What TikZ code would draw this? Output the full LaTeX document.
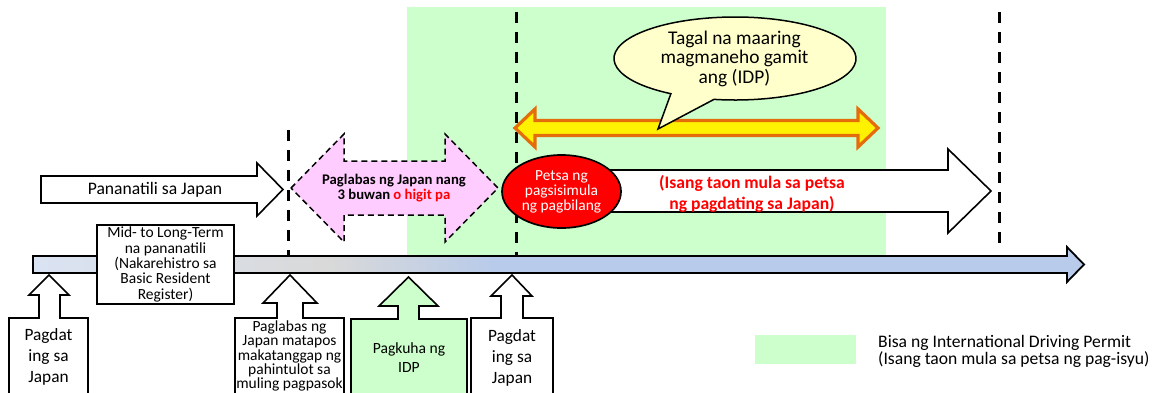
\documentclass[tikz,border=0pt]{standalone}
\usepackage{fontspec}
\setmainfont{Carlito}
\usetikzlibrary{shapes.geometric,calc}
\definecolor{idpgreen}{HTML}{CCFFCC}
\definecolor{pinkfill}{HTML}{FFCCFF}
\definecolor{orangeline}{HTML}{E46C0A}
\definecolor{bubblefill}{HTML}{FFFFCC}
\definecolor{tlL}{HTML}{DAE3F3}
\definecolor{tlG}{HTML}{D9D9D9}
\definecolor{tlB}{HTML}{B8CBEA}
\pgfdeclarehorizontalshading{timelineshade}{100bp}{color(0bp)=(tlL); color(25bp)=(tlL); color(39bp)=(tlG); color(47bp)=(tlB); color(100bp)=(tlB)}
\tikzset{
  blk/.style={draw=black, line width=1.6pt, line join=miter, fill=white},
  vdash/.style={draw=black, line width=3pt, dash pattern=on 11pt off 9pt},
  pinkarrow/.style={draw=black, line width=1.5pt, dash pattern=on 6pt off 4pt, fill=pinkfill, line join=miter},
  yarrow/.style={draw=orangeline, line width=3.2pt, fill=yellow, line join=miter},
  bubble/.style={draw=black, line width=1.5pt, fill=bubblefill, line join=miter},
  txt/.style={inner sep=0pt, align=center, text=black},
}
\begin{document}
\begin{tikzpicture}[x=1pt,y=-1pt]
\useasboundingbox (0,0) rectangle (1162,392);
\clip (0,0) rectangle (1162,392);
% validity area
\fill[idpgreen] (407,7) rectangle (886,256);
% dashed vertical lines
\coordinate (d1t) at (288,130); \coordinate (d1b) at (288,256);
\coordinate (d2t) at (516,12);  \coordinate (d2b) at (516,256);
\coordinate (d3t) at (999,12);  \coordinate (d3b) at (999,252);
\draw[vdash] (d1t) -- (d1b);
\draw[vdash] (d2t) -- (d2b);
\draw[vdash] (d3t) -- (d3b);
% stay arrow
\draw[blk] (41,176) -- (257,176) -- (257,163) -- (283,189.5) -- (257,216) -- (257,203) -- (41,203) -- cycle;
\node[txt, font=\fontsize{17.6}{21}\selectfont] (stay) at (155,190) {Pananatili sa Japan};
% pink double arrow
\draw[pinkarrow] (291,188) -- (344,134) -- (344,161) -- (445,161) -- (445,134) -- (498,188) -- (445,242) -- (445,215) -- (344,215) -- (344,242) -- cycle;
\node[txt, font=\bfseries\fontsize{14.7}{15}\selectfont] (leave) at (394,188) {Paglabas ng Japan nang\\3 buwan \textcolor{red}{o higit pa}};
% yellow double arrow
\draw[yarrow] (515,128) -- (535,109) -- (535,120.5) -- (858,120.5) -- (858,109) -- (878,128) -- (858,147) -- (858,135.5) -- (535,135.5) -- (535,147) -- cycle;
% speech bubble
\coordinate (bubc) at (735,58.5);
\coordinate (bubtip) at (658,129);
\draw[bubble] ($(bubc)+(-100:121pt and 41.5pt)$) -- (bubtip) -- ($(bubc)+(-122:121pt and 41.5pt)$) arc[start angle=-122, end angle=-460, x radius=121pt, y radius=41.5pt] -- cycle;
\node[txt, font=\fontsize{19.4}{19.5}\selectfont] (bubtxt) at (734.5,58.5) {Tagal na maaring\\magmaneho gamit\\ang (IDP)};
% one-year arrow
\draw[blk] (570,170) -- (948,170) -- (948,149) -- (991,191) -- (948,233) -- (948,212) -- (570,212) -- cycle;
\node[txt, text=red, font=\bfseries\fontsize{17.6}{21}\selectfont] (year) at (752,193.5) {(Isang taon mula sa petsa\\ng pagdating sa Japan)};
% start ellipse
\node[ellipse, draw=black, line width=1.7pt, fill=red, minimum width=119pt, minimum height=73pt, inner sep=0pt] (start) at (561.5,191.5) {};
\node[txt, text=white, font=\fontsize{15.4}{15}\selectfont] (starttxt) at (start.center) {Petsa ng\\pagsisimula\\ng pagbilang};
% timeline
\shadedraw[shading=timelineshade, draw=black, line width=1.8pt, line join=miter] (33,256) -- (1067,256) -- (1067,247) -- (1084,264.5) -- (1067,282) -- (1067,273) -- (33,273) -- cycle;
% mid-term box
\node[draw=black, line width=1.6pt, fill=white, minimum width=137pt, minimum height=79pt, txt, font=\fontsize{15.5}{15.4}\selectfont] (midterm) at (165.5,264.5) {Mid- to Long-Term\\na pananatili\\(Nakarehistro sa\\Basic Resident\\Register)};
% bottom callout boxes
\draw[blk] (9,318) -- (39,318) -- (39,295) -- (29,295) -- (49,275) -- (69,295) -- (60,295) -- (60,318) -- (88,318) -- (88,400) -- (9,400) -- cycle;
\node[txt, font=\fontsize{17.3}{21}\selectfont] (arr1) at (48.5,357) {Pagdat\\ing sa\\Japan};
\draw[blk] (235,318) -- (277,318) -- (277,303) -- (263,303) -- (290,275) -- (317,303) -- (303,303) -- (303,318) -- (344,318) -- (344,400) -- (235,400) -- cycle;
\node[txt, font=\fontsize{15.5}{14.4}\selectfont] (exit) at (289.5,356) {Paglabas ng\\Japan matapos\\makatanggap ng\\pahintulot sa\\muling pagpasok};
\draw[blk, fill=idpgreen] (351,319) -- (398,319) -- (398,306) -- (379,306) -- (408.5,277) -- (438,306) -- (419,306) -- (419,319) -- (467,319) -- (467,400) -- (351,400) -- cycle;
\node[txt, font=\fontsize{15.6}{19}\selectfont] (idp) at (409,357.5) {Pagkuha ng\\IDP};
\draw[blk] (471,318) -- (501,318) -- (501,296) -- (491,296) -- (512,275) -- (532,296) -- (523,296) -- (523,318) -- (553,318) -- (553,400) -- (471,400) -- cycle;
\node[txt, font=\fontsize{17.3}{21}\selectfont] (arr2) at (512,357.5) {Pagdat\\ing sa\\Japan};
% legend
\fill[idpgreen] (755,335) rectangle (856,364);
\node[txt, align=left, anchor=west, font=\fontsize{17.6}{17}\selectfont] (legend) at (878,351.5) {Bisa ng International Driving Permit\\(Isang taon mula sa petsa ng pag-isyu)};
\end{tikzpicture}
\end{document}
